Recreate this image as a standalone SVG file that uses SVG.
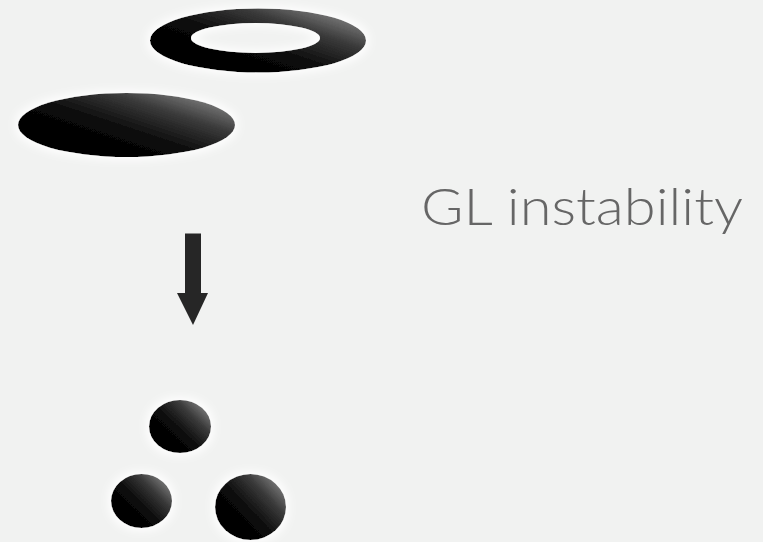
<svg xmlns="http://www.w3.org/2000/svg" width="763" height="542" viewBox="0 0 763 542">
  <defs>
    <linearGradient id="shade" x1="0.1" y1="0.9" x2="1" y2="0.1">
      <stop offset="0" stop-color="#000"/>
      <stop offset="0.4" stop-color="#080808"/>
      <stop offset="0.7" stop-color="#3a3a3a"/>
      <stop offset="1" stop-color="#909090"/>
    </linearGradient>
    <filter id="halo" x="-30%" y="-50%" width="160%" height="200%">
      <feMorphology in="SourceAlpha" operator="dilate" radius="3" result="grow"/>
      <feGaussianBlur in="grow" stdDeviation="4" result="blur"/>
      <feFlood flood-color="#ffffff" flood-opacity="0.9"/>
      <feComposite in2="blur" operator="in" result="glow"/>
      <feMerge>
        <feMergeNode in="glow"/>
        <feMergeNode in="SourceGraphic"/>
      </feMerge>
    </filter>
    <style>
      .body { fill: url(#shade); filter: url(#halo); }
      .label { font-family: Lato, "Open Sans", sans-serif; font-weight: 300; font-size: 52px; fill: #666666; }
    </style>
  </defs>
  <rect width="763" height="542" fill="#f1f2f1"/>

  <g id="ring">
    <path class="body" fill-rule="evenodd" d="M150,40.5 a108,32 0 1,0 216,0 a108,32 0 1,0 -216,0 Z M191,38 a64.5,15 0 1,1 129,0 a64.5,15 0 1,1 -129,0 Z"/>
  </g>

  <g id="disk">
    <ellipse class="body" cx="126.5" cy="125" rx="108.5" ry="32"/>
  </g>

  <g id="connectors">
    <path d="M185,233.5 H201 V293 H208 L193,325 L177,293 H185 Z" fill="#262626"/>
  </g>

  <g id="droplets">
    <ellipse class="body" cx="180" cy="426.5" rx="31" ry="26.5"/>
    <ellipse class="body" cx="141.5" cy="501" rx="30.5" ry="27"/>
    <ellipse class="body" cx="250.5" cy="507" rx="35.5" ry="33"/>
  </g>

  <g id="caption">
    <text class="label" x="421" y="225" textLength="322" lengthAdjust="spacingAndGlyphs">GL instability</text>
  </g>
</svg>
